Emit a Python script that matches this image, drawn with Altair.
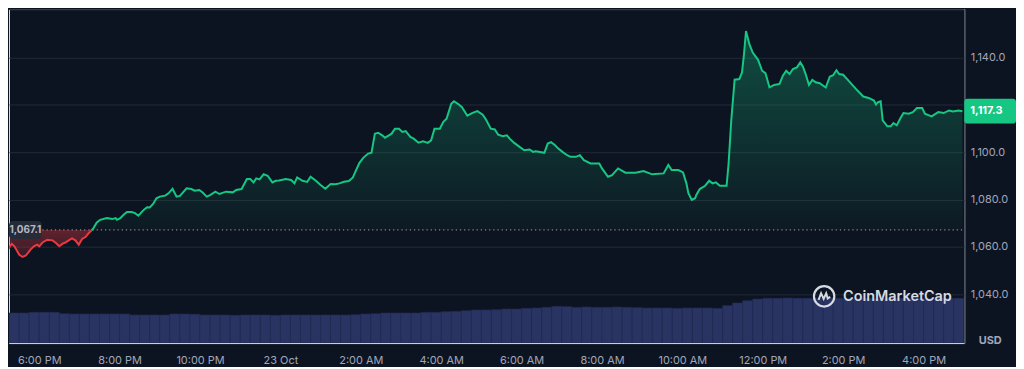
import altair as alt
import pandas as pd

# ---------------- data ----------------
minutes = [10, 12, 14, 19, 23, 30, 35, 40, 47, 52, 57, 60, 65, 72, 80, 85, 90, 95, 99, 104, 109, 114, 119, 124, 129, 134,
           138, 141, 146, 151, 161, 169, 174, 176, 181, 186, 191, 198, 203, 208, 216, 221, 225, 230, 235, 240, 248, 253,
           259, 265, 270, 280, 287, 292, 299, 304, 310, 315, 323, 329, 339, 349, 354, 362, 370, 375, 380, 384, 389, 395,
           401, 408, 413, 418, 428, 436, 441, 445, 453, 460, 465, 473, 480, 487, 495, 502, 508, 515, 522, 528, 533, 538,
           544, 551, 556, 561, 566, 572, 576, 582, 586, 591, 597, 602, 607, 614, 619, 626, 633, 640, 645, 650, 658, 663,
           668, 675, 679, 685, 691, 699, 706, 714, 722, 727, 734, 740, 745, 752, 758, 763, 769, 777, 784, 792, 797, 801,
           814, 819, 824, 830, 834, 841, 848, 853, 861, 867, 873, 883, 896, 900, 909, 915, 924, 935, 950, 962, 975, 992,
           999, 1004, 1014, 1021, 1026, 1029, 1034, 1039, 1041, 1046, 1054, 1060, 1065, 1070, 1076, 1086, 1089, 1093,
           1098, 1105, 1109, 1112, 1115, 1120, 1125, 1133, 1139, 1144, 1150, 1157, 1165, 1170, 1175, 1180, 1185, 1191,
           1196, 1200, 1204, 1209, 1214, 1219, 1225, 1234, 1240, 1245, 1250, 1254, 1260, 1269, 1279, 1290, 1298, 1306,
           1309, 1312, 1316, 1319, 1326, 1331, 1335, 1340, 1345, 1350, 1358, 1364, 1370, 1378, 1382, 1392, 1402, 1410,
           1418, 1424, 1432, 1438]

prices = [1061.8, 1061.6, 1059.1, 1061.3, 1060.2, 1056.7, 1055.7, 1056.3, 1058.8, 1060.2, 1060.9, 1060.2, 1061.8,
          1063.0, 1062.7, 1061.6, 1060.2, 1061.3, 1061.8, 1062.7, 1063.5, 1062.7, 1060.9, 1063.3, 1064.1, 1065.8,
          1066.9, 1067.9, 1070.3, 1071.4, 1072.1, 1071.7, 1072.1, 1071.4, 1072.1, 1073.5, 1074.7, 1074.7, 1074.2,
          1073.1, 1075.6, 1076.7, 1076.6, 1078.1, 1080.5, 1081.2, 1081.6, 1082.6, 1084.5, 1081.2, 1081.5, 1084.7,
          1084.4, 1083.7, 1084.0, 1082.9, 1081.2, 1081.8, 1083.3, 1082.3, 1083.3, 1083.0, 1084.0, 1084.4, 1088.6,
          1088.6, 1087.2, 1088.9, 1088.5, 1090.7, 1090.0, 1087.2, 1087.9, 1088.0, 1088.6, 1088.2, 1086.8, 1089.3,
          1087.9, 1087.4, 1089.6, 1087.9, 1086.1, 1084.5, 1086.5, 1086.4, 1086.8, 1087.5, 1087.8, 1089.2, 1092.4,
          1095.5, 1097.7, 1099.4, 1099.8, 1107.8, 1108.2, 1107.1, 1106.1, 1107.1, 1107.8, 1109.9, 1109.9, 1108.5,
          1108.9, 1106.4, 1105.7, 1104.0, 1104.6, 1103.9, 1105.0, 1109.9, 1109.9, 1112.7, 1114.1, 1120.4, 1121.5,
          1120.4, 1119.0, 1115.4, 1116.5, 1117.3, 1115.8, 1113.7, 1109.9, 1109.6, 1107.4, 1106.7, 1107.1, 1105.5,
          1103.9, 1102.2, 1100.8, 1101.1, 1100.1, 1100.4, 1099.7, 1103.6, 1104.2, 1102.9, 1101.7, 1100.1, 1098.7,
          1098.0, 1098.0, 1098.7, 1096.6, 1095.2, 1095.2, 1093.1, 1089.6, 1090.3, 1093.1, 1091.3, 1091.3, 1092.0,
          1090.6, 1091.0, 1094.6, 1092.4, 1092.4, 1091.4, 1086.8, 1082.6, 1079.8, 1080.5, 1082.0, 1084.4, 1085.8,
          1087.9, 1086.8, 1087.2, 1085.8, 1085.8, 1095.2, 1113.4, 1130.6, 1130.9, 1133.7, 1141.4, 1151.2, 1145.6,
          1142.1, 1139.0, 1134.4, 1133.4, 1127.4, 1128.4, 1128.8, 1132.3, 1134.4, 1133.0, 1135.1, 1135.8, 1137.9,
          1136.1, 1133.0, 1128.4, 1130.5, 1129.5, 1129.1, 1127.3, 1131.9, 1132.5, 1134.6, 1133.0, 1132.7, 1129.9,
          1126.7, 1123.5, 1122.9, 1121.8, 1120.1, 1121.1, 1121.5, 1113.4, 1110.9, 1110.9, 1112.3, 1111.3, 1114.1,
          1116.5, 1116.2, 1116.9, 1118.6, 1118.6, 1116.2, 1115.1, 1116.9, 1116.5, 1117.6, 1117.2, 1117.6, 1117.3]

# volume per 15-minute bucket (millions, relative)
volume = [4.5, 4.5, 4.5, 4.6, 4.6, 4.6, 4.4, 4.35, 4.35, 4.35, 4.35, 4.35, 4.35, 4.2, 4.2, 4.2, 4.2, 4.35, 4.35, 4.3, 4.2,
          4.2, 4.2, 4.15, 4.2, 4.2, 4.2, 4.15, 4.2, 4.2, 4.2, 4.2, 4.2,
          4.2, 4.2, 4.25, 4.35, 4.4,
          4.5, 4.5, 4.5,
          4.5, 4.6, 4.6, 4.7, 4.75, 4.85, 4.95, 4.95, 5.0, 5.1, 5.1, 5.2, 5.25, 5.35, 5.5, 5.45,
          5.35, 5.4, 5.35, 5.35, 5.4, 5.35,
          5.3, 5.25,
          5.25, 5.25, 5.2, 5.25, 5.25, 5.25, 5.2,
          5.6, 6.0, 6.35, 6.6,
          6.7, 6.7, 6.75, 6.7, 6.7, 6.7, 6.75, 6.7, 6.7, 6.7, 6.7, 6.65, 6.7, 6.7, 6.7, 6.7, 6.7, 6.75, 6.7, 6.7]

BASE = 1067.1
LAST = 1117.3
y_ticks = [1040, 1060, 1080, 1100, 1120, 1140]
x_tick_times = [(22, 18), (22, 20), (22, 22), (23, 0), (23, 2), (23, 4), (23, 6), (23, 8), (23, 10),
                (23, 12), (23, 14), (23, 16)]

# ---------------- tables ----------------
t_start = pd.Timestamp("2023-10-22 17:00:00")
fmt = "%Y-%m-%dT%H:%M:%S"
df = pd.DataFrame({
    "t": (t_start + pd.to_timedelta(minutes, unit="m")).strftime(fmt),
    "price": prices,
})
df["up"] = df["price"].clip(lower=BASE)
df["down"] = df["price"].clip(upper=BASE)
first_up = int((df["price"] >= BASE).idxmax())
red_df = df.iloc[:first_up]
green_df = df.iloc[first_up - 1:]

vdf = pd.DataFrame({
    "t0": (t_start + pd.to_timedelta([15 * i for i in range(len(volume))], unit="m")).strftime(fmt),
    "t1": (t_start + pd.to_timedelta([15 * (i + 1) for i in range(len(volume))], unit="m")).strftime(fmt),
    "vol": volume,
})
one = pd.DataFrame({"base_lbl": [f"{BASE:,.1f}"], "last_lbl": [f"{LAST:,.1f}"],
                    "cur": ["USD"], "brand": ["CoinMarketCap"]})

# ---------------- styling ----------------
W, H = 961, 336
BG = "#0d1421"
TXT = "#a1a7bb"
GRID = "#222a37"
GREEN = "#16c784"
RED = "#ea3943"
FONT = "Inter"

x_dom = [alt.DateTime(year=2023, month=10, date=22, hours=17, minutes=14, seconds=54),
         alt.DateTime(year=2023, month=10, date=23, hours=17, minutes=0, seconds=50)]
xscale = alt.Scale(domain=x_dom)
yscale = alt.Scale(domain=[1019.3, 1160.46], nice=False, zero=False)

x_axis = alt.Axis(
    values=[alt.DateTime(year=2023, month=10, date=d, hours=h) for d, h in x_tick_times],
    labelExpr="hours(datum.value) == 0 ? timeFormat(datum.value, '%-d %b') : timeFormat(datum.value, '%-I:%M %p')",
    grid=False, ticks=False, domain=False, title=None, labelColor=TXT, labelFontSize=11,
    labelFont=FONT, labelPadding=12, labelFlush=False,
)
# the current-price badge covers the 1,120.0 label in the original
y_axis = alt.Axis(
    orient="right", values=y_ticks, title=None, ticks=False, domain=True,
    labelExpr=f"abs(datum.value - {LAST}) < 8 ? '' : format(datum.value, ',.1f')",
    domainColor="#2a3140", grid=True, gridColor=GRID, labelColor=TXT, labelFontSize=11,
    labelFont=FONT, labelPadding=6,
)

X = alt.X("t:T", scale=xscale, axis=x_axis)

grad_g = alt.Gradient(gradient="linear",
                      stops=[alt.GradientStop(color="rgba(22,199,132,0.32)", offset=0),
                             alt.GradientStop(color="rgba(22,199,132,0.03)", offset=1)],
                      x1=0, x2=0, y1=0, y2=1)
grad_r = alt.Gradient(gradient="linear",
                      stops=[alt.GradientStop(color="rgba(234,57,67,0.38)", offset=0),
                             alt.GradientStop(color="rgba(234,57,67,0.18)", offset=1)],
                      x1=0, x2=0, y1=0, y2=1)

# ---------------- layers ----------------
vol_layer = alt.Chart(vdf).mark_rect(clip=True, color="#293462", stroke="#222b52", strokeWidth=0.6).encode(
    x=alt.X("t0:T", scale=xscale, axis=x_axis),
    x2="t1:T",
    y=alt.Y("vol:Q", scale=alt.Scale(domain=[0, 50]), axis=None),
)

area_g = alt.Chart(df).mark_area(clip=True, color=grad_g).encode(
    x=X, y=alt.Y("up:Q", scale=yscale, axis=y_axis), y2=alt.datum(BASE))
area_r = alt.Chart(df).mark_area(clip=True, color=grad_r).encode(
    x=X, y=alt.Y("down:Q", scale=yscale, axis=y_axis), y2=alt.datum(BASE))

base_rule = alt.Chart(one).mark_rule(strokeDash=[1.2, 3], color="#9aa0b2", strokeWidth=1.2, opacity=0.85).encode(
    x=alt.value(0), x2=alt.value(W), y=alt.datum(BASE))

line_r = alt.Chart(red_df).mark_line(clip=True, color=RED, strokeWidth=2).encode(
    x=X, y=alt.Y("price:Q", scale=yscale, axis=y_axis))
line_g = alt.Chart(green_df).mark_line(clip=True, color=GREEN, strokeWidth=2).encode(
    x=X, y=alt.Y("price:Q", scale=yscale, axis=y_axis))

top_rule = alt.Chart(one).mark_rule(color="#2a3140", strokeWidth=1).encode(
    x=alt.value(0), x2=alt.value(W), y=alt.value(0.5))

base_box = alt.Chart(one).mark_rect(color="#262c39", opacity=0.95, cornerRadius=4,
                                    yOffset=-9, y2Offset=9).encode(
    x=alt.value(0), x2=alt.value(33), y=alt.datum(BASE), y2=alt.datum(BASE))
base_txt = alt.Chart(one).mark_text(align="left", baseline="middle", font=FONT, fontSize=10,
                                    fontWeight="bold", color="#b4b9c6").encode(
    x=alt.value(0.5), y=alt.datum(BASE), text="base_lbl:N")

last_box = alt.Chart(one).mark_rect(color=GREEN, cornerRadius=3, yOffset=-12.5, y2Offset=12.5).encode(
    x=alt.value(W), x2=alt.value(W + 52), y=alt.datum(LAST), y2=alt.datum(LAST))
last_txt = alt.Chart(one).mark_text(align="left", baseline="middle", font=FONT, fontSize=11,
                                    fontWeight="bold", color="#ffffff").encode(
    x=alt.value(W + 6), y=alt.datum(LAST), text="last_lbl:N")

usd_txt = alt.Chart(one).mark_text(align="center", baseline="middle", font=FONT, fontSize=11,
                                   fontWeight="bold", color=TXT).encode(
    x=alt.value(W + 26), y=alt.value(H - 2.5), text="cur:N")

logo_ring = alt.Chart(one).mark_point(shape="circle", filled=False, size=420, strokeWidth=2.2,
                                      color="#d6dae2", opacity=1).encode(
    x=alt.value(820), y=alt.value(289))
logo_wave = alt.Chart(one).mark_point(shape="M -0.55 0.35 L -0.3 -0.3 L -0.05 0.25 L 0.2 -0.3 L 0.35 0.2 L 0.6 0.05",
                                      filled=False, size=420, strokeWidth=2, color="#d6dae2", opacity=1).encode(
    x=alt.value(820), y=alt.value(289))
brand_txt = alt.Chart(one).mark_text(align="left", baseline="middle", font=FONT, fontSize=14.5,
                                     fontWeight=600, color="#d6dae2").encode(
    x=alt.value(839), y=alt.value(290), text="brand:N")

price_layer = alt.layer(area_g, area_r, base_rule, line_r, line_g, top_rule,
                        base_box, base_txt, last_box, last_txt, usd_txt,
                        logo_ring, logo_wave, brand_txt)

chart = alt.layer(vol_layer, price_layer).resolve_scale(y="independent").properties(
    width=W, height=H, padding=0, background=BG
).configure_view(stroke=None).configure(font=FONT)

chart.save("out.html", embed_options={"renderer": "svg", "actions": False})
